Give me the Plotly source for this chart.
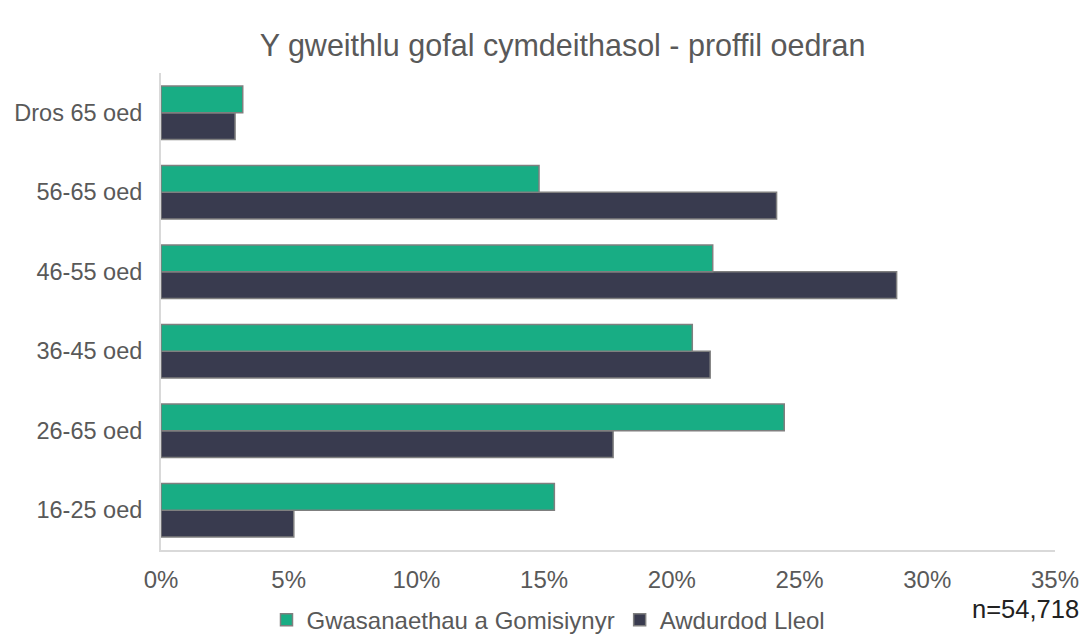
import plotly.graph_objects as go

# Categories bottom-up (Plotly puts the first category at the bottom)
categories = ["16-25 oed", "26-65 oed", "36-45 oed", "46-55 oed", "56-65 oed", "Dros 65 oed"]
gomisiynyr = [15.4, 24.4, 20.8, 21.6, 14.8, 3.2]
awdurdod = [5.2, 17.7, 21.5, 28.8, 24.1, 2.9]
x_ticks = [0, 5, 10, 15, 20, 25, 30, 35]
x_labels = [f"{v}%" for v in x_ticks]

GREEN = "#18AD84"
DARK = "#393B4F"
TEXT = "#595959"

fig = go.Figure()

# dark trace first so it sits below the green one in each group
fig.add_trace(go.Bar(
    y=categories, x=awdurdod, orientation="h",
    name="Awdurdod Lleol", legendrank=2,
    marker=dict(color=DARK, line=dict(color="#7f7f7f", width=1.5)),
))
fig.add_trace(go.Bar(
    y=categories, x=gomisiynyr, orientation="h",
    name="Gwasanaethau a Gomisiynyr", legendrank=1,
    marker=dict(color=GREEN, line=dict(color="#7f7f7f", width=1.5)),
))

fig.add_annotation(
    text="n=54,718", xref="paper", yref="paper",
    x=1.029, y=-0.124, xanchor="right", yanchor="middle",
    showarrow=False, font=dict(size=25.5, color="#222222"),
)

# page body has an 8px margin, so the figure is 8px smaller than the window
fig.update_layout(
    width=1081, height=633,
    barmode="group", bargap=0.33, bargroupgap=0,
    plot_bgcolor="white", paper_bgcolor="white",
    font=dict(family="Liberation Sans, Arial, sans-serif", color=TEXT, size=24),
    title=dict(
        text="Y gweithlu gofal cymdeithasol - proffil oedran",
        x=0.513, xanchor="center", y=0.9415, yanchor="middle",
        font=dict(size=30.5, color=TEXT),
    ),
    xaxis=dict(
        range=[0, 35], tickmode="array", tickvals=x_ticks, ticktext=x_labels,
        showgrid=False, zeroline=False, automargin=False,
        showline=True, linecolor="#d9d9d9", linewidth=2,
        ticks="", ticklabelstandoff=7, tickfont=dict(size=24),
    ),
    yaxis=dict(
        showgrid=False, zeroline=False, automargin=False,
        showline=True, linecolor="#d9d9d9", linewidth=2,
        ticks="", ticklabelstandoff=12, tickfont=dict(size=23.5),
    ),
    legend=dict(
        orientation="h", xref="container", yref="container",
        x=0.5, xanchor="center", y=0.033, yanchor="middle",
        font=dict(size=24, color=TEXT), itemwidth=30,
    ),
    margin=dict(l=153, r=34, t=65, b=91),
)

fig.write_html("out.html")
